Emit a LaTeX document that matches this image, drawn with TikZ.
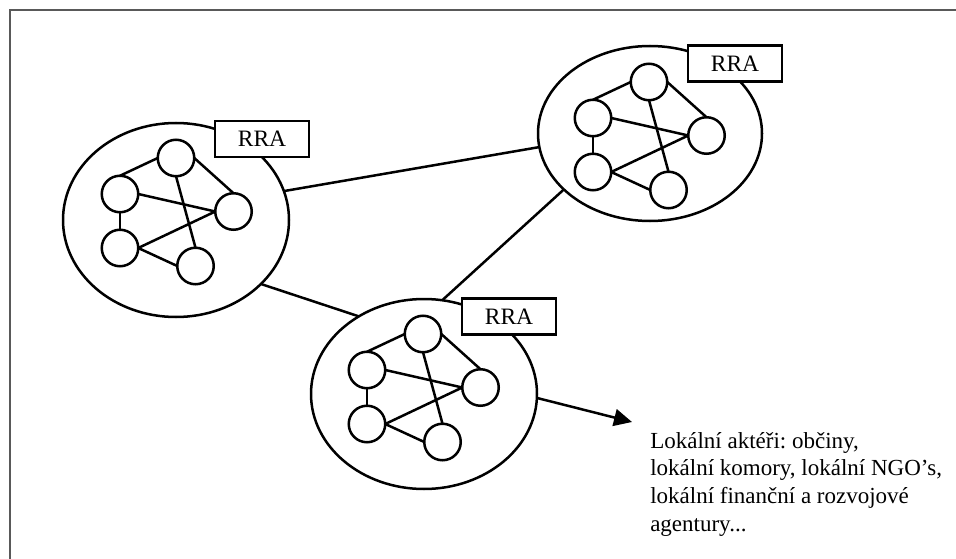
\documentclass[tikz,border=0pt]{standalone}
\usepackage{fontspec}
\setmainfont{Liberation Serif}
\usetikzlibrary{shapes.geometric,arrows.meta}
\frenchspacing
\tikzset{
  actor/.style={circle, draw, minimum size=36.5pt, inner sep=0pt, outer sep=0pt},
  region/.style={ellipse, draw, inner sep=0pt, outer sep=0pt},
  rrabox/.style={draw, fill=white, minimum width=94pt, minimum height=36pt, inner sep=0pt,
                 font=\fontsize{23.5}{27.5}\selectfont},
  link/.style={line width=2.5pt},
  frameline/.style={draw=black!65, line width=2pt},
  cluster/.pic={
    \node[actor] (-t)  at (0,0) {};
    \node[actor] (-lu) at (-56,36) {};
    \node[actor] (-r)  at (57.5,53.5) {};
    \node[actor] (-ll) at (-56,90) {};
    \node[actor] (-b)  at (19.5,108) {};
    \draw (-t.west) -- (-lu.north);
    \draw (-t.east) -- (-r.north);
    \draw (-t.south) -- (-b.north);
    \draw (-lu.east) -- (-r.west);
    \draw (-lu.south) -- (-ll.north);
    \draw (-ll.east) -- (-r.west);
    \draw (-ll.east) -- (-b.west);
  }
}
\begin{document}
\begin{tikzpicture}[x=1pt, y=-1pt, line width=2.5pt]
\useasboundingbox (0,0) rectangle (956,559);
% frame (top and left only)
\draw[frameline] (9.5,559) -- (9.5,10) -- (956,10);

% regions
\node[region, minimum width=226pt, minimum height=194pt] (EL) at (176,220) {};
\node[region, minimum width=224pt, minimum height=175pt] (ER) at (650,133.5) {};
\node[region, minimum width=226pt, minimum height=190pt] (EB) at (424,394) {};

% clusters of actors
\pic (L) at (176,158) {cluster};
\pic (R) at (649,82) {cluster};
\pic (B) at (423,334) {cluster};

% links between regions
\draw[link] (EL.15) -- (ER.187.4);
\draw[link] (EL.-37.6) -- (EB.130.7);
\draw[link] (EB.79.4) -- (ER.-147.9);

% arrow to local actors
\coordinate (tip) at (632,422);
\draw[link, -{Triangle[length=18pt, width=17pt]}] (EB.-2) -- (tip);

% RRA labels
\node[rrabox] (BL) at (262,139) {RRA};
\node[rrabox] (BR) at (735,63.5) {RRA};
\node[rrabox] (BB) at (509,316.5) {RRA};

% description
\node[anchor=base west, align=left, inner sep=0pt,
      font=\fontsize{23}{27.6}\selectfont] (txt) at (649,531)
  {Lokální aktéři: občiny,\\lokální komory, lokální NGO’s,\\lokální finanční a rozvojové\\agentury...};
\end{tikzpicture}
\end{document}
